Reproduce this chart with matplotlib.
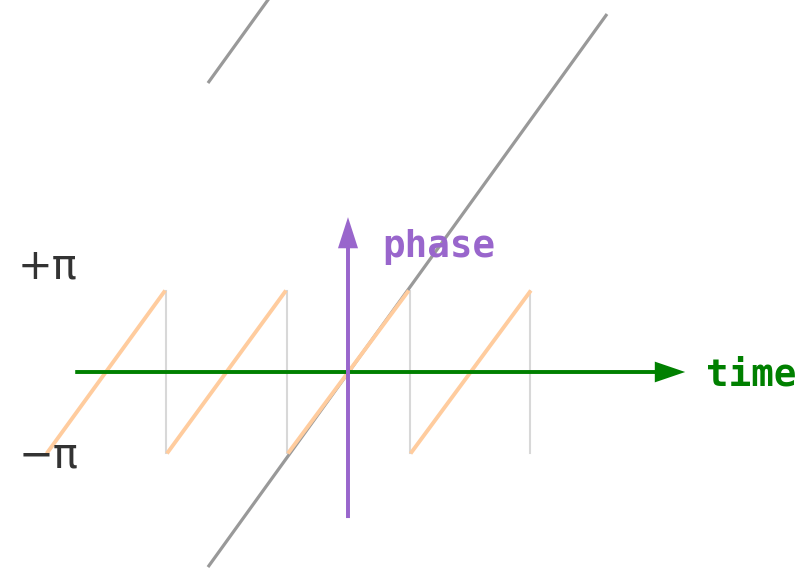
import numpy as np
import matplotlib
matplotlib.use("Agg")
import matplotlib.pyplot as plt

PI = np.pi

# wrapped phase (sawtooth) segments: start/end times, phase goes -pi -> +pi
wrap_start_t = [-4.96, -2.98, -0.99, 1.03]
wrap_end_t = [-3.01, -1.02, 1.00, 3.01]
wrap_low = -PI
wrap_high = PI

# jumps of the wrapped phase
jump_t = [-2.995, -1.0, 1.02, 3.0]

# unwrapped phase lines (t, phase)
unwrap_t = [-2.305, 4.263]
unwrap_phase = [-7.52, 13.80]
unwrap2_t = [-2.305, 0.0]
unwrap2_phase = [11.14, 18.62]

fig = plt.figure(figsize=(7.98, 5.70), dpi=100)
ax = fig.add_axes([0, 0, 1, 1])
ax.set_xlim(-5.728, 7.407)
ax.set_ylim(-7.633, 14.341)
ax.axis("off")

# jumps
for t in jump_t:
    ax.plot([t, t], [wrap_low, wrap_high], color="#d8d8d8", lw=1.5, zorder=1)

# unwrapped
ax.plot(unwrap_t, unwrap_phase, color="#999999", lw=2.3,
        solid_capstyle="butt", zorder=2)
ax.plot(unwrap2_t, unwrap2_phase, color="#999999", lw=2.3,
        solid_capstyle="butt", zorder=2)

# wrapped
for t0, t1 in zip(wrap_start_t, wrap_end_t):
    ax.plot([t0, t1], [wrap_low, wrap_high], color="#ffcc9e",
            lw=2.8, solid_capstyle="butt", zorder=3)

# axes arrows
ax.arrow(-4.49, 0, 10.04, 0, width=0.15, head_width=0.8, head_length=0.5,
         length_includes_head=True, color="green", lw=0, zorder=4)
ax.arrow(0, -5.63, 0, 11.6, width=0.065, head_width=0.33, head_length=1.2,
         length_includes_head=True, color="#9966cc", lw=0, zorder=4)

ax.text(5.9, -0.12, "time", color="green", fontsize=27, fontweight="bold",
        family="DejaVu Sans Mono", ha="left", va="center")
ax.text(0.57, 4.8, "phase", color="#9966cc", fontsize=27, fontweight="bold",
        family="DejaVu Sans Mono", ha="left", va="center")

ax.text(-5.43, 4.05, "+π", color="#333333", fontsize=30, ha="left", va="center")
ax.text(-5.43, -3.2, "−π", color="#333333", fontsize=30, ha="left", va="center")

fig.savefig("out.png", dpi=100)
